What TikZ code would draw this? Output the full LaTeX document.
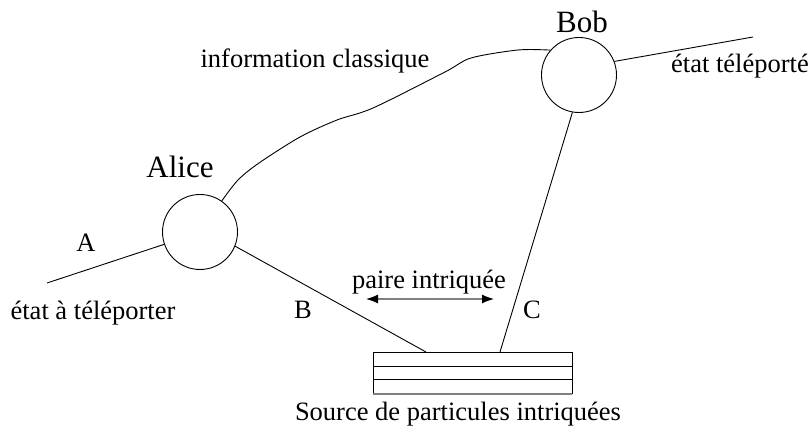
\documentclass[tikz,border=0pt]{standalone}
\usepackage{fontspec}
\setmainfont{Liberation Serif}
\usetikzlibrary{arrows.meta}
\begin{document}
\begin{tikzpicture}[x=1pt, y=-1pt, line width=0.9pt,
  txt/.style={font=\fontsize{26.5}{30}\selectfont, inner sep=0pt, anchor=base},
  who/.style={font=\fontsize{31}{35}\selectfont, inner sep=0pt, anchor=base},
  party/.style={draw, circle, minimum size=75pt, inner sep=0pt},
  >={Latex[color=black, length=12pt, width=9pt]}]
  \useasboundingbox (0,0) rectangle (812,430);
  % Alice, Bob et la source
  \node[party] (alice) at (200,232) {};
  \node[party] (bob) at (579,75) {};
  \node[draw, minimum width=199pt, minimum height=41pt, inner sep=0pt] (source) at (472.5,372.5) {};
  \draw (373,366) -- (572,366);
  \draw (373,379) -- (572,379);
  \draw[gray, line width=2pt] (373,394) -- (572,394);
  \node[who] (alicelbl) at (180,178) {Alice};
  \node[who] (boblbl) at (582,33) {Bob};
  \node[txt] (srclbl) at (458,421) {Source de particules intriquées};
  % lignes
  \coordinate (aend) at (47,283);
  \coordinate (tend) at (753,37);
  \coordinate (bfoot) at (426,352);
  \coordinate (cfoot) at (500,352);
  \draw (alice.199) -- (aend);
  \draw (alice.-22) -- (bfoot);
  \draw (bob.-100) -- (cfoot);
  \draw (bob.21) -- (tend);
  \draw plot[smooth, tension=0.5] coordinates {(alice.55) (238,180) (259,163) (300,137)
    (337,120) (373,108) (445,72) (471,58) (518,50) (bob.139)};
  % textes
  \node[txt] (lblA) at (86,252) {A};
  \node[txt] (lblB) at (303,319) {B};
  \node[txt] (lblC) at (532,319) {C};
  \node[txt] (etat) at (93,320) {état à téléporter};
  \node[txt] (tele) at (740,73) {état téléporté};
  \node[txt] (info) at (315,68) {information classique};
  \node[txt] (paire) at (429,289) {paire intriquée};
  \coordinate (pl) at (366,299);
  \coordinate (pr) at (494,299);
  \draw[gray, line width=1.2pt, <->] (pl) -- (pr);
\end{tikzpicture}
\end{document}
